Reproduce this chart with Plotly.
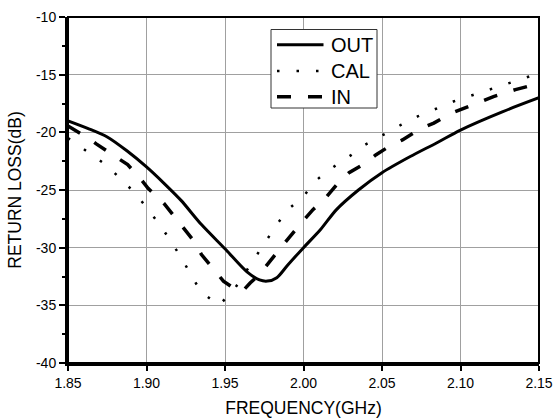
import plotly.graph_objects as go

# ---- data ----
out_f = [1.850, 1.8625, 1.875, 1.8875, 1.900, 1.911, 1.922, 1.935, 1.950, 1.964,
         1.972, 1.977, 1.983, 1.990, 2.000, 2.011, 2.021, 2.035, 2.050, 2.068,
         2.085, 2.100, 2.127, 2.150]
out_db = [-19.0, -19.65, -20.4, -21.6, -23.0, -24.4, -25.9, -28.0, -30.1, -32.1,
          -32.8, -32.9, -32.6, -31.5, -30.0, -28.4, -26.7, -25.0, -23.5, -22.1,
          -20.9, -19.8, -18.2, -17.0]

cal_f = [1.850, 1.865, 1.875, 1.884, 1.893, 1.901, 1.909, 1.916, 1.923, 1.929,
         1.935, 1.946, 1.955, 1.962, 1.969, 1.976, 1.983, 1.990, 2.000, 2.007,
         2.018, 2.029, 2.039, 2.051, 2.062, 2.073, 2.085, 2.096, 2.108, 2.120,
         2.133, 2.145, 2.150]
cal_db = [-20.5, -21.9, -22.9, -24.1, -25.3, -26.7, -28.1, -29.55, -31.05, -32.55,
          -33.85, -35.0, -33.8, -32.35, -30.9, -29.5, -28.0, -26.7, -25.57, -24.27,
          -23.1, -22.1, -21.1, -20.2, -19.36, -18.6, -17.9, -17.3, -16.76, -16.2,
          -15.6, -15.1, -14.9]

in_f = [1.850, 1.863, 1.868, 1.879, 1.888, 1.896, 1.901, 1.911, 1.916, 1.924,
        1.930, 1.935, 1.941, 1.949, 1.957, 1.961, 1.966, 1.972, 1.981, 1.986,
        1.994, 2.006, 2.013, 2.022, 2.029, 2.039, 2.046, 2.056, 2.063, 2.075,
        2.083, 2.094, 2.102, 2.115, 2.121, 2.135, 2.143, 2.150]
in_db = [-19.45, -20.5, -21.0, -21.96, -22.8, -24.0, -24.85, -26.15, -27.0, -28.45,
         -29.4, -30.6, -31.6, -32.9, -33.65, -33.8, -33.07, -32.3, -30.77, -29.9,
         -28.6, -26.7, -25.85, -24.4, -23.5, -22.7, -21.96, -21.1, -20.66, -19.65,
         -19.2, -18.35, -17.9, -17.2, -16.9, -16.3, -15.98, -15.75]

x_ticks = [1.85, 1.90, 1.95, 2.00, 2.05, 2.10, 2.15]
x_ticklabels = ["1.85", "1.90", "1.95", "2.00", "2.05", "2.10", "2.15"]
y_ticks = [-40, -35, -30, -25, -20, -15, -10]
y_ticklabels = ["-40", "-35", "-30", "-25", "-20", "-15", "-10"]

series_names = ["OUT", "CAL", "IN"]

FONT = "Liberation Sans, Arial, sans-serif"
W, H = 553, 418
ML, MR, MT, MB = 68, 14, 17, 55
PW, PH = W - ML - MR, H - MT - MB

styles = [dict(color="black", width=3),
          dict(color="black", width=2.5, dash="2.5px,17px"),
          dict(color="black", width=3.5, dash="14px,17px")]


def px(xpix):
    return (xpix - ML) / PW


def py(ypix):
    return (H - MB - ypix) / PH


fig = go.Figure()
fig.add_trace(go.Scatter(x=out_f, y=out_db, mode="lines", name=series_names[0],
                         line=dict(styles[0], shape="spline", smoothing=0.8)))
fig.add_trace(go.Scatter(x=cal_f, y=cal_db, mode="lines", name=series_names[1],
                         line=styles[1]))
fig.add_trace(go.Scatter(x=in_f, y=in_db, mode="lines", name=series_names[2],
                         line=styles[2]))

# legend drawn as a boxed key (paper coordinates)
shapes = [dict(type="rect", xref="paper", yref="paper", x0=0, x1=1, y0=0, y1=1,
               line=dict(color="black", width=2), layer="above"),
          dict(type="rect", xref="paper", yref="paper",
               x0=px(271), x1=px(377), y0=py(108), y1=py(29.5),
               line=dict(color="#333333", width=1), fillcolor="white", layer="above")]
annotations = []
rows_y = [44.7, 71, 96.7]
for name, st, ry in zip(series_names, styles, rows_y):
    shapes.append(dict(type="line", xref="paper", yref="paper",
                       x0=px(277), x1=px(323.5), y0=py(ry), y1=py(ry),
                       line=st, layer="above"))
    annotations.append(dict(text=name, xref="paper", yref="paper",
                            x=px(329), y=py(ry), xanchor="left", yanchor="middle",
                            showarrow=False, font=dict(size=20, family=FONT)))

fig.update_layout(
    width=W, height=H,
    margin=dict(l=ML, r=MR, t=MT, b=MB, autoexpand=False),
    paper_bgcolor="white", plot_bgcolor="white",
    font=dict(family=FONT, color="black", size=14),
    showlegend=False,
    xaxis=dict(range=[1.85, 2.15], tickvals=x_ticks, ticktext=x_ticklabels,
               showgrid=True, gridcolor="#a0a0a0", gridwidth=1,
               showline=True, linecolor="black", linewidth=3,
               ticks="outside", ticklen=5, tickwidth=2, tickcolor="black",
               tickfont=dict(size=14), zeroline=False, automargin=False,
               title=dict(text="FREQUENCY(GHz)", font=dict(size=17.5), standoff=14)),
    yaxis=dict(range=[-40, -10], tickvals=y_ticks, ticktext=y_ticklabels,
               showgrid=True, gridcolor="#a0a0a0", gridwidth=1,
               showline=True, linecolor="black", linewidth=3,
               ticks="outside", ticklen=6, tickwidth=2, tickcolor="black",
               minor=dict(ticks="outside", ticklen=3, tickwidth=2, dtick=2.5,
                          tick0=-40, tickcolor="black", showgrid=False),
               tickfont=dict(size=14), zeroline=False, automargin=False,
               title=dict(text="RETURN LOSS(dB)", font=dict(size=17.5), standoff=10)),
    shapes=shapes,
    annotations=annotations,
)

fig.write_html("out.html")
